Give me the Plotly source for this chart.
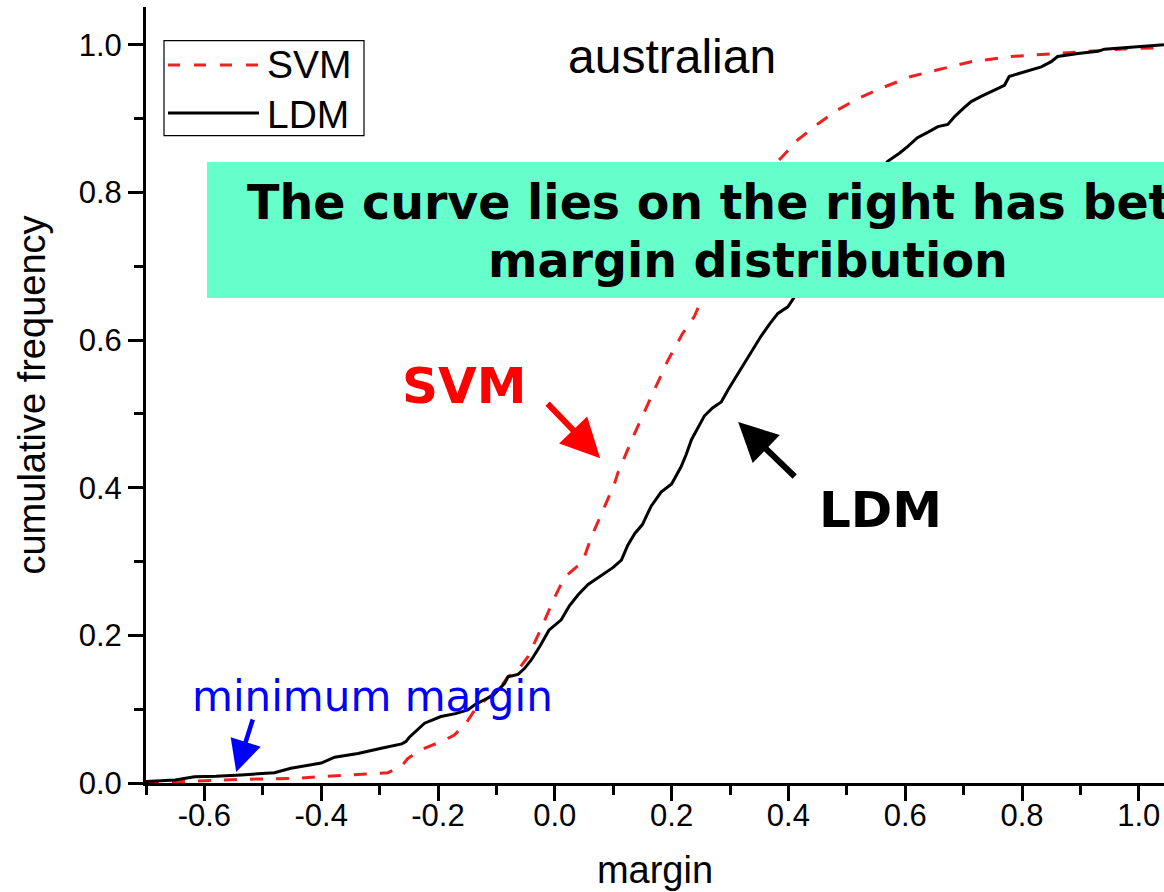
import plotly.graph_objects as go

# ---------------- data ----------------
ldm_x = [-0.70, -0.65, -0.617, -0.58, -0.537, -0.48, -0.452, -0.40, -0.377, -0.337, -0.297,
         -0.262, -0.255, -0.249, -0.223, -0.195, -0.170, -0.149, -0.137, -0.120, -0.105,
         -0.086, -0.080, -0.063, -0.052, -0.040, -0.025, -0.010, 0.011, 0.025, 0.040,
         0.057, 0.070, 0.085, 0.100, 0.114, 0.125, 0.137, 0.150, 0.156, 0.165, 0.182,
         0.200, 0.216, 0.225, 0.234, 0.246, 0.256, 0.270, 0.285, 0.297, 0.308, 0.325,
         0.340, 0.353, 0.368, 0.382, 0.399, 0.410, 0.450, 0.500, 0.540, 0.570, 0.590,
         0.604, 0.621, 0.640, 0.656, 0.673, 0.685, 0.700, 0.713, 0.730, 0.747, 0.770,
         0.778, 0.804, 0.833, 0.850, 0.861, 0.896, 0.930, 0.941, 0.987, 1.043]
ldm_y = [0.002, 0.004, 0.0085, 0.009, 0.011, 0.014, 0.020, 0.027, 0.035, 0.040, 0.047,
         0.053, 0.056, 0.062, 0.081, 0.090, 0.094, 0.099, 0.106, 0.113, 0.119,
         0.135, 0.144, 0.147, 0.155, 0.167, 0.186, 0.207, 0.221, 0.240, 0.255,
         0.269, 0.276, 0.283, 0.292, 0.302, 0.322, 0.338, 0.350, 0.360, 0.375, 0.394,
         0.405, 0.428, 0.445, 0.465, 0.482, 0.497, 0.508, 0.516, 0.533, 0.547, 0.568,
         0.588, 0.605, 0.622, 0.636, 0.645, 0.658, 0.705, 0.765, 0.812, 0.842, 0.853,
         0.862, 0.874, 0.882, 0.889, 0.892, 0.903, 0.914, 0.923, 0.930, 0.936, 0.945,
         0.957, 0.963, 0.970, 0.977, 0.984, 0.988, 0.991, 0.994, 0.997, 1.000]

svm_x = [-0.70, -0.62, -0.537, -0.452, -0.389, -0.309, -0.286, -0.263, -0.252, -0.229,
         -0.189, -0.172, -0.152, -0.137, -0.126, -0.097, -0.080, -0.063, -0.046, -0.023,
         0.000, 0.017, 0.034, 0.048, 0.062, 0.079, 0.102, 0.108, 0.137, 0.165, 0.194,
         0.219, 0.239, 0.256, 0.300, 0.340, 0.382, 0.416, 0.451, 0.485, 0.519, 0.565,
         0.610, 0.656, 0.713, 0.782, 0.856, 0.918, 0.987, 1.043]
svm_y = [0.000, 0.002, 0.005, 0.006, 0.009, 0.012, 0.014, 0.022, 0.033, 0.045,
         0.058, 0.065, 0.081, 0.099, 0.108, 0.126, 0.144, 0.153, 0.171, 0.210,
         0.252, 0.279, 0.291, 0.300, 0.332, 0.363, 0.405, 0.420, 0.474, 0.523, 0.573,
         0.609, 0.632, 0.663, 0.735, 0.795, 0.842, 0.871, 0.893, 0.912, 0.927, 0.943,
         0.957, 0.966, 0.977, 0.984, 0.988, 0.991, 0.995, 0.996]

x_ticks = [-0.6, -0.4, -0.2, 0.0, 0.2, 0.4, 0.6, 0.8, 1.0]
x_tick_labels = ["-0.6", "-0.4", "-0.2", "0.0", "0.2", "0.4", "0.6", "0.8", "1.0"]
x_minor = [-0.7, -0.5, -0.3, -0.1, 0.1, 0.3, 0.5, 0.7, 0.9]
y_ticks = [0.0, 0.2, 0.4, 0.6, 0.8, 1.0]
y_tick_labels = ["0.0", "0.2", "0.4", "0.6", "0.8", "1.0"]
y_minor = [0.1, 0.3, 0.5, 0.7, 0.9]

# ---------------- layout geometry ----------------
W, H = 1164, 892
L, R, T, B = 146, 0, 7, 109
PW, PH = W - L - R, H - T - B


def px(x):
    return (x - L) / PW


def py(y):
    return (H - B - y) / PH


ARIAL = "Arial, Liberation Sans, sans-serif"
VERD = "DejaVu Sans, Verdana, sans-serif"
RED = "rgb(240,32,32)"

fig = go.Figure()
fig.add_trace(go.Scatter(x=svm_x, y=svm_y, mode="lines", name="SVM",
                         line=dict(color=RED, width=3, dash="13px,13px"), showlegend=False))
fig.add_trace(go.Scatter(x=ldm_x, y=ldm_y, mode="lines", name="LDM",
                         line=dict(color="black", width=3), showlegend=False))

axis_common = dict(showline=True, linecolor="black", linewidth=3, mirror=False,
                   ticks="outside", ticklen=15, tickwidth=3, tickcolor="black",
                   showgrid=False, zeroline=False,
                   tickfont=dict(family=ARIAL, size=31, color="black"))

fig.update_xaxes(range=[-0.7, -0.7 + PW / 584.0], tickmode="array", tickvals=x_ticks,
                 ticktext=x_tick_labels, ticklabelstandoff=-12,
                 minor=dict(tickmode="array", tickvals=x_minor, ticks="outside", ticklen=9,
                            tickwidth=3, tickcolor="black"),
                 title=dict(text="margin", font=dict(family=ARIAL, size=38, color="black"),
                            standoff=25),
                 **axis_common)
fig.update_yaxes(range=[0, PH / 738.3], tickmode="array", tickvals=y_ticks,
                 ticktext=y_tick_labels,
                 minor=dict(tickmode="array", tickvals=y_minor, ticks="outside", ticklen=9,
                            tickwidth=3, tickcolor="black"),
                 title=dict(text="cumulative frequency",
                            font=dict(family=ARIAL, size=38, color="black"), standoff=22),
                 **axis_common)

shapes = []
# cyan message box
shapes.append(dict(type="rect", xref="paper", yref="paper", x0=px(207), x1=px(1300),
                   y0=py(298), y1=py(162), fillcolor="#66FFCC", line=dict(width=0),
                   layer="above"))
# legend frame and samples
shapes.append(dict(type="rect", xref="paper", yref="paper", x0=px(164), x1=px(364),
                   y0=py(135.7), y1=py(40.7), fillcolor="white",
                   line=dict(color="black", width=1.2), layer="above"))
shapes.append(dict(type="line", xref="paper", yref="paper", x0=px(168), x1=px(259),
                   y0=py(65), y1=py(65), line=dict(color=RED, width=3, dash="12px,14px"),
                   layer="above"))
shapes.append(dict(type="line", xref="paper", yref="paper", x0=px(168), x1=px(259),
                   y0=py(113), y1=py(113), line=dict(color="black", width=3), layer="above"))

ann = []


def text_ann(text, xc, yc, size, family, color="black", bold=False, xanchor="center"):
    t = "<b>%s</b>" % text if bold else text
    return dict(text=t, xref="paper", yref="paper", x=px(xc), y=py(yc), xanchor=xanchor,
                yanchor="middle", showarrow=False, borderpad=0, borderwidth=0,
                font=dict(family=family, size=size, color=color))


ann.append(text_ann("australian", 672, 73 - 0.3465 * 48, 48, ARIAL))
ann.append(text_ann("SVM", 267, 78 - 0.3465 * 39, 39, ARIAL, xanchor="left"))
ann.append(text_ann("LDM", 267, 128 - 0.3465 * 39, 39, ARIAL, xanchor="left"))
ann.append(text_ann("The curve lies on the right has better", 748, 219 - 0.346 * 47.5, 47.5,
                    VERD, bold=True))
ann.append(text_ann("margin distribution", 748, 277 - 0.346 * 47.5, 47.5, VERD, bold=True))
ann.append(text_ann("SVM", 464, 403 - 0.346 * 50, 50, VERD, color="red", bold=True))
ann.append(text_ann("LDM", 880, 527 - 0.346 * 50, 50, VERD, bold=True))
ann.append(text_ann("minimum margin", 372, 711 - 0.346 * 42, 42, VERD, color="blue"))

# arrows (tips in data coordinates, tails as pixel offsets)
ann.append(dict(text="", x=0.0777, y=0.440, xref="x", yref="y", ax=-54, ay=-56,
                showarrow=True, arrowhead=2, arrowsize=1.3, arrowwidth=6,
                arrowcolor="red", standoff=0))
ann.append(dict(text="", x=0.314, y=0.489, xref="x", yref="y", ax=58, ay=56,
                showarrow=True, arrowhead=2, arrowsize=1.3, arrowwidth=6,
                arrowcolor="black", standoff=0))
ann.append(dict(text="", x=-0.5455, y=0.0149, xref="x", yref="y", ax=17, ay=-54,
                showarrow=True, arrowhead=2, arrowsize=1.4, arrowwidth=4.5,
                arrowcolor="blue", standoff=0))

fig.update_layout(width=W, height=H, margin=dict(l=L, r=R, t=T, b=B, autoexpand=False),
                  paper_bgcolor="white", plot_bgcolor="white", showlegend=False,
                  shapes=shapes, annotations=ann)

fig.write_html("out.html")
